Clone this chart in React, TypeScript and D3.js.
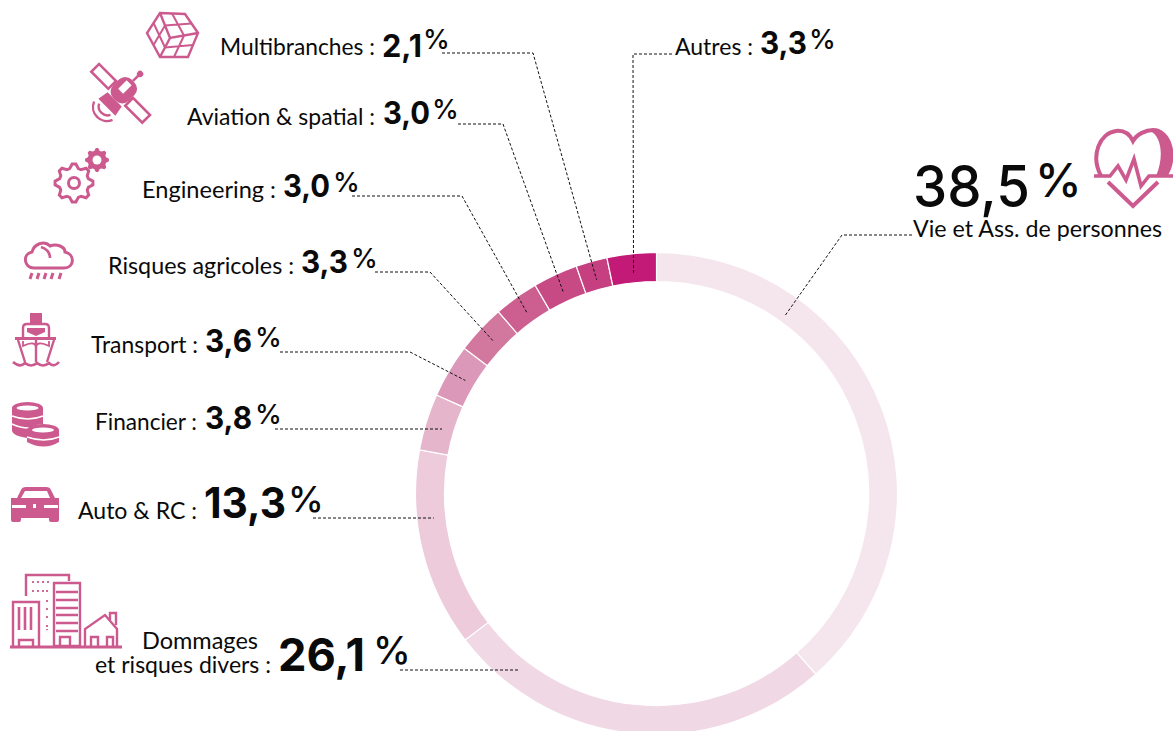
import React from "react";
import * as d3 from "d3";

const categories = ["Vie et Ass. de personnes", "Dommages et risques divers", "Auto & RC", "Financier", "Transport", "Risques agricoles", "Engineering", "Aviation & spatial", "Multibranches", "Autres"];
const values = [38.5, 26.1, 13.3, 3.8, 3.6, 3.3, 3.0, 3.0, 2.1, 3.3];
const valueLabels = ["38,5", "26,1", "13,3", "3,8", "3,6", "3,3", "3,0", "3,0", "2,1", "3,3"];
const colors = ["#f5e6ee", "#f0d9e4", "#edcbdb", "#e5b5cb", "#db98b9", "#d2789f", "#cc5f90", "#c84a85", "#c63f80", "#c21a76"];

const CX = 656.5, CY = 493.5, R0 = 212, R1 = 241;
const PINK = "#cc5a8e";
const SANS = "Lato, 'Open Sans', sans-serif";
const NUM = "Inter, Lato, sans-serif";

// label layout, index matches categories
const rows = [
  { lx: 913, ly: 237, lw: 249, vx: 913, vy: 207, vs: 57, vw: 117, vw8: 550, px: 1035, py: 197, ps: 47 },
  { lx: 95, ly: 673, lw: 176, vx: 278, vy: 671, vs: 45, vw: 87, vw8: 650, px: 373, py: 664, ps: 38 },
  { lx: 78, ly: 519, lw: 119, vx: 204, vy: 518, vs: 42, vw: 82, vw8: 650, px: 288, py: 512, ps: 36 },
  { lx: 95, ly: 430, lw: 102, vx: 205, vy: 429, vs: 31, vw: 47, vw8: 650, px: 255, py: 424, ps: 27 },
  { lx: 91, ly: 353, lw: 107, vx: 205, vy: 352, vs: 31, vw: 47, vw8: 650, px: 255, py: 347, ps: 27 },
  { lx: 108, ly: 274, lw: 186, vx: 301, vy: 273, vs: 31, vw: 47, vw8: 650, px: 351, py: 268, ps: 27 },
  { lx: 142, ly: 198, lw: 134, vx: 283, vy: 197, vs: 31, vw: 47, vw8: 650, px: 333, py: 192, ps: 27 },
  { lx: 187, ly: 125, lw: 188, vx: 383, vy: 124, vs: 31, vw: 47, vw8: 650, px: 432, py: 119, ps: 27 },
  { lx: 220, ly: 55, lw: 155, vx: 382, vy: 57, vs: 31, vw: 40, vw8: 650, px: 423, py: 49, ps: 27 },
  { lx: 675, ly: 55, lw: 78, vx: 760, vy: 54, vs: 31, vw: 47, vw8: 650, px: 809, py: 49, ps: 27 },
];
const labelTexts = ["Vie et Ass. de personnes", "et risques divers :", "Auto & RC :", "Financier :", "Transport :", "Risques agricoles :", "Engineering :", "Aviation & spatial :", "Multibranches :", "Autres :"];

// leader routes: fixed elbows; the last point lies in the ring
const leaderRoutes: { pts: [number, number][]; endY?: number; side?: number; endR?: number }[] = [
  { pts: [[912, 235], [842, 235]], endY: 316, side: 1, endR: 219 },
  { pts: [[400, 670]], endY: 670, side: -1, endR: 224 },
  { pts: [[313, 518]], endY: 518, side: -1, endR: 224 },
  { pts: [[275, 429]], endY: 429, side: -1, endR: 224 },
  { pts: [[280, 352], [410, 352]] },
  { pts: [[375, 272], [430, 272]] },
  { pts: [[352, 196], [462, 196]] },
  { pts: [[458, 124], [503, 124]] },
  { pts: [[442, 53], [533, 53]] },
  { pts: [[672, 54], [633, 54]] },
];

function gearPath(cx: number, cy: number, r: number, teeth: number, depth: number) {
  const n = teeth * 4;
  const pts: [number, number][] = [];
  for (let i = 0; i < n; i++) {
    const a = ((i - 0.5) / n) * Math.PI * 2;
    const rr = i % 4 < 2 ? r : r - depth;
    pts.push([cx + rr * Math.sin(a), cy - rr * Math.cos(a)]);
  }
  return d3.line()(pts) + "Z";
}

function Icons() {
  const s = { fill: "none", stroke: PINK, strokeWidth: 2.4 };
  const f = { fill: PINK };
  return (
    <g>
      {/* cube */}
      <g {...s}>
        <path d="M160 13L185 14L198 33L188 57L160 57L147 33Z" />
        <path d="M160 13L170 38L198 33M170 38L160 57" />
        <path d="M172 13.5L184 35.5M165 25.5L191.5 23.5M153.5 23L165 47.5M165 25.5L153.5 45M184 35.5L174 57M165 47.5L193 45" strokeWidth={2} />
      </g>
      {/* satellite */}
      <g transform="translate(121,93) rotate(-45)">
        <rect x={-6} y={-36} width={11} height={24} {...s} strokeWidth={2.6} />
        <rect x={-6} y={12} width={11} height={24} {...s} strokeWidth={2.6} />
        <rect x={-9} y={-11} width={26} height={22} rx={9} {...f} />
        <rect x={1} y={-5} width={12} height={7} fill="#fff" />
        <path d="M-9 -10L-20 -12L-20 12L-9 10Z" {...f} />
        <path d="M17 0H26" stroke={PINK} strokeWidth={2.5} />
        <circle cx={27} cy={0} r={3.2} {...f} />
        <path d="M-23 -8A9 9 0 0 0 -23 8" {...s} strokeWidth={2.4} />
        <path d="M-25 -13A14 14 0 0 0 -25 13" {...s} strokeWidth={2.4} />
      </g>
      {/* gears */}
      <path d={gearPath(74, 183, 19, 8, 4)} {...s} strokeWidth={3} />
      <circle cx={74} cy={183} r={5.5} {...s} strokeWidth={3} />
      <path d={gearPath(97, 160, 12, 8, 2.5)} {...f} />
      <circle cx={97} cy={160} r={4.5} fill="#fff" />
      {/* cloud */}
      <path d="M34 268C24 268 22 254 32 252C34 244 44 240 50 246C57 243 65 247 65 252C75 254 75 268 64 268Z" {...s} strokeWidth={3} />
      <path d="M41 247C47 249 50 253 50 258" {...s} strokeWidth={2.6} />
      <path d="M32 273L30 279M39 273L37 279M46 273L44 279M53 273L51 279M61 273L59 279" stroke={PINK} strokeWidth={3} />
      {/* ship */}
      <path d="M30 313H42V323H30Z" {...f} />
      <path d="M23 338V328Q23 324 27 324H45Q49 324 49 328V338" {...s} />
      <path d="M27 328H45V332L36 336L27 332Z" {...f} />
      <path d="M15 338.5H56" {...s} strokeWidth={3} />
      <path d="M18 340L25 362M54 340L47 362M36 338V362" {...s} />
      <path d="M23 341V346Q36 340 36 348Q36 340 49 346V341" {...s} strokeWidth={1.8} />
      <path d="M13 362Q20 368 25 363Q31 368 37 363Q43 368 49 363Q54 368 59 362" {...s} strokeWidth={2.6} />
      {/* coins */}
      <path d="M12 408A15.5 6 0 0 1 43 408V424Q30 425 27 431V438Q13 436 12 431Z" {...f} />
      <ellipse cx={27.5} cy={408} rx={11} ry={2.4} fill="#fff" />
      <path d="M12 416Q28 422 43 416M12 424Q20 428 29 428" stroke="#fff" strokeWidth={1.6} fill="none" />
      <path d="M27 430A16 6 0 0 1 59 430V442Q44 451 27 442Z" {...f} />
      <ellipse cx={43} cy={430} rx={11} ry={2.4} fill="#fff" />
      <path d="M27 437Q44 443 59 437" stroke="#fff" strokeWidth={1.6} fill="none" />
      {/* car */}
      <path d="M11 498H17L21 490Q22 487 26 487H46Q50 487 51 490L55 498H59V518H11Z" {...f} />
      <path d="M21 498L25 491H47L50 498Z" fill="#fff" />
      <path d="M11 518H21V520Q21 522 19 522H13Q11 522 11 520ZM49 518H59V520Q59 522 57 522H51Q49 522 49 520Z" {...f} />
      <rect x={12} y={505} width={14} height={3} fill="#fff" />
      <rect x={44} y={505} width={14} height={3} fill="#fff" />
      <rect x={33} y={504} width={3} height={4} fill="#fff" />
      {/* buildings */}
      <g {...s}>
        <path d="M26 596V575H69V581" />
        <path d="M54 583H80V646H54Z" />
        <path d="M13 646V602H39V646" />
        <path d="M85 646V629L105 615L117 629V646" />
        <path d="M10 647H122" strokeWidth={3} />
        <path d="M19 646V640H33V646M60 646V637H70V646M91 646V637H98V646M107 646V637H113V646M110 620V613H116V625" />
        <path d="M19 607V630M25 607V630M31 607V630" strokeWidth={2.6} />
        <path d="M56 592H78M56 600H78M56 608H78M56 615H78M56 623H78M56 631H78" strokeWidth={2.4} />
        <path d="M33 581V585M38 581V585M43 581V585M48 581V585M33 590V594M38 590V594M43 590V594M47 590V594M47 600V604M47 608V612M47 616V620M47 625V630" strokeDasharray="2 2" strokeWidth={1.8} />
      </g>
      {/* heart */}
      <path d="M1101 176C1090 155 1100 133 1116 131C1125 130 1130 135 1133 141C1137 134 1146 130 1153 130C1170 130 1178 158 1165 176" {...s} strokeWidth={4} />
      <path d="M1153 130C1168 130 1179 158 1167 176L1156 176C1164 158 1162 136 1150 131Z" {...f} />
      <path d="M1094 176H1110L1118 166L1126 180L1134 159L1141 186L1149 176H1173" {...s} strokeWidth={3.6} />
      <path d="M1108 182L1133 206L1158 182" {...s} strokeWidth={4} />
    </g>
  );
}

export default function App() {
  const pie = d3.pie<number>().sort(null).padAngle(0)(values);
  const arc = d3.arc<d3.PieArcDatum<number>>().innerRadius(R0).outerRadius(R1);
  const anchorR = 222;
  const ringX = (y: number, side: number, r: number) => CX + side * Math.sqrt(r * r - (y - CY) * (y - CY));
  const line = d3.line();
  const leaders = leaderRoutes.map((route, i) => {
    const mid = (pie[i].startAngle + pie[i].endAngle) / 2;
    const end: [number, number] =
      route.endY !== undefined
        ? [ringX(route.endY, route.side as number, route.endR as number), route.endY]
        : [CX + anchorR * Math.sin(mid), CY - anchorR * Math.cos(mid)];
    return line([...route.pts, end]) as string;
  });
  return (
    <svg width={1173} height={731} style={{ position: "absolute", left: 0, top: 0, background: "#fff" }}>
      <g transform={`translate(${CX},${CY})`}>
        {pie.map((d, i) => (
          <path key={categories[i]} d={arc(d) as string} fill={colors[i]} stroke="#fff" strokeWidth={1.2} />
        ))}
      </g>
      {leaders.map((d, i) => (
        <path key={i} d={d} fill="none" stroke="#111" strokeWidth={1} strokeDasharray="3 2" />
      ))}
      <Icons />
      <g fill="#0a0a0a">
        <text x={142} y={649} fontFamily={SANS} fontSize={22.5} textLength={116} lengthAdjust="spacingAndGlyphs">Dommages</text>
        {rows.map((r, i) => (
          <g key={i}>
            <text x={r.lx} y={r.ly} fontFamily={SANS} fontSize={22.5} textLength={r.lw} lengthAdjust="spacingAndGlyphs">{labelTexts[i]}</text>
            <text x={r.vx} y={r.vy} fontFamily={NUM} fontWeight={r.vw8} fontSize={r.vs} textLength={r.vw} lengthAdjust="spacingAndGlyphs">{valueLabels[i]}</text>
            <text x={r.px} y={r.py} fontFamily={NUM} fontWeight={500} fontSize={r.ps}>%</text>
          </g>
        ))}
      </g>
    </svg>
  );
}
